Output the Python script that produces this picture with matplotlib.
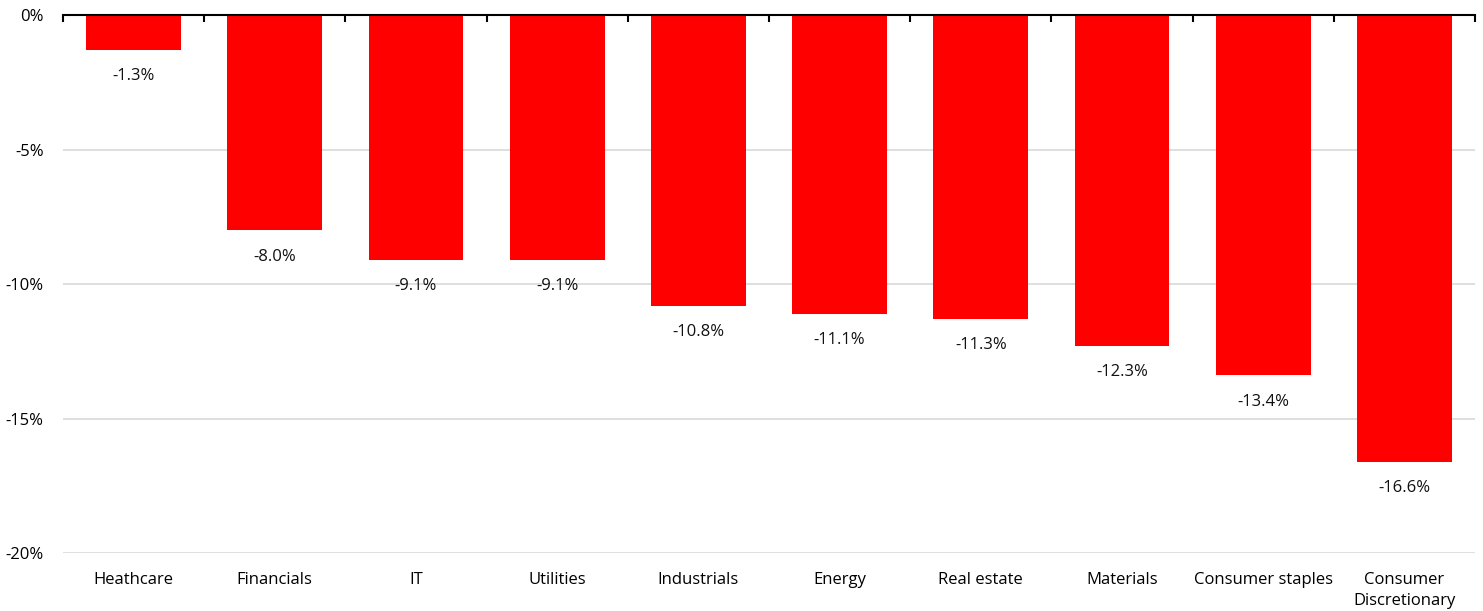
import matplotlib
matplotlib.use("Agg")
import matplotlib.pyplot as plt
import numpy as np

categories = ["Heathcare", "Financials", "IT", "Utilities", "Industrials", "Energy",
              "Real estate", "Materials", "Consumer staples", "Consumer\nDiscretionary"]
values = [-1.3, -8.0, -9.1, -9.1, -10.8, -11.1, -11.3, -12.3, -13.4, -16.6]
yticks = [0, -5, -10, -15, -20]

plt.rcParams['font.family'] = ['Open Sans', 'DejaVu Sans']

fig = plt.figure(figsize=(14.83, 6.11), dpi=100)
ax = fig.add_axes([63/1483, 1-553/611, (1475-63)/1483, (553-15)/611])

x = np.arange(len(categories))
ax.bar(x, values, width=0.67, color='#ff0000', zorder=3)
for xi, v in zip(x, values):
    ax.annotate(f"{v:.1f}%", (xi, v), xytext=(0, -19), textcoords='offset points',
                ha='center', va='center', fontsize=12, color='#111111')

ax.set_xlim(-0.5, len(categories)-0.5)
ax.set_ylim(-20, 0)
ax.set_yticks(yticks)
ax.set_yticklabels([f"{t}%" for t in yticks], fontsize=12)
ax.yaxis.grid(True, color='#dcdcdc', linewidth=1.3, zorder=0)
ax.set_axisbelow(True)
ax.set_xticks(x)
ax.set_xticklabels(categories, fontsize=12, linespacing=1.4)
ax.tick_params(axis='x', which='major', length=0, pad=14)
ax.tick_params(axis='y', length=0, pad=14)
ax.set_xticks(np.arange(-0.5, len(categories)), minor=True)
ax.tick_params(axis='x', which='minor', top=True, bottom=False, direction='in',
               length=5, width=1.5, color='black')
for s in ['left', 'right', 'bottom']:
    ax.spines[s].set_visible(False)
ax.spines['top'].set_linewidth(1.5)
ax.spines['top'].set_color('black')
ax.spines['top'].set_zorder(4)

fig.savefig("out.png", dpi=100)
